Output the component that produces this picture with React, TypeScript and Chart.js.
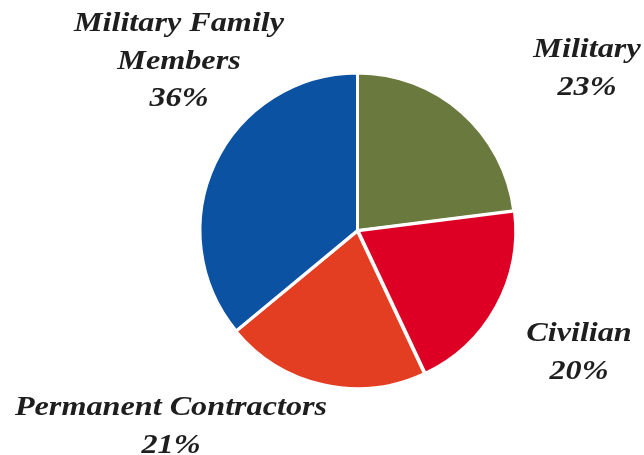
import React, { useEffect, useRef } from "react";
import { Chart, registerables } from "chart.js";

Chart.register(...registerables);

const categories = ["Military", "Civilian", "Permanent Contractors", "Military Family Members"];
const shares = [23, 20, 21, 36];
const colors = ["#6a7a3e", "#de0024", "#e43e22", "#0b52a3"];
// label lines per slice (wrapped as in the picture)
const labelLines = [["Military"], ["Civilian"], ["Permanent Contractors"], ["Military Family", "Members"]];
// label anchor positions: center x and first baseline y (layout only)
const labelPos = [
  { x: 587, y: 57 },
  { x: 579, y: 341 },
  { x: 171, y: 415 },
  { x: 179, y: 31 },
];

const labelPlugin = {
  id: "pieLabels",
  afterDraw(chart: any) {
    const ctx = chart.ctx;
    const sx = 1.15;
    ctx.save();
    ctx.fillStyle = "#1e1e1e";
    ctx.font = "bold italic 28px 'Liberation Serif', 'DejaVu Serif', serif";
    ctx.textAlign = "center";
    ctx.textBaseline = "alphabetic";
    const lineH = 37.5;
    categories.forEach((_, i) => {
      const lines = [...labelLines[i], shares[i] + "%"];
      const p = labelPos[i];
      lines.forEach((ln, j) => {
        ctx.save();
        ctx.translate(p.x, p.y + j * lineH);
        ctx.scale(sx, 1);
        ctx.fillText(ln, 0, 0);
        ctx.restore();
      });
    });
    ctx.restore();
  },
};

export default function App() {
  const ref = useRef<HTMLCanvasElement | null>(null);
  useEffect(() => {
    document.body.style.margin = "0";
    const chart = new Chart(ref.current as HTMLCanvasElement, {
      type: "pie",
      data: {
        labels: categories,
        datasets: [
          {
            data: shares,
            backgroundColor: colors,
            borderColor: "#ffffff",
            borderWidth: 3,
            offset: [0, 3, 2, 0],
          },
        ],
      },
      options: {
        animation: false,
        responsive: false,
        devicePixelRatio: 1,
        layout: { padding: { left: 197, right: 126, top: 70, bottom: 64 } },
        plugins: {
          legend: { display: false },
          tooltip: { enabled: false },
        },
      },
      plugins: [labelPlugin],
    });
    return () => chart.destroy();
  }, []);
  return (
    <div style={{ position: "absolute", left: 0, top: 0, width: 644, height: 455, background: "#fff" }}>
      <canvas ref={ref} width={644} height={455} />
    </div>
  );
}
